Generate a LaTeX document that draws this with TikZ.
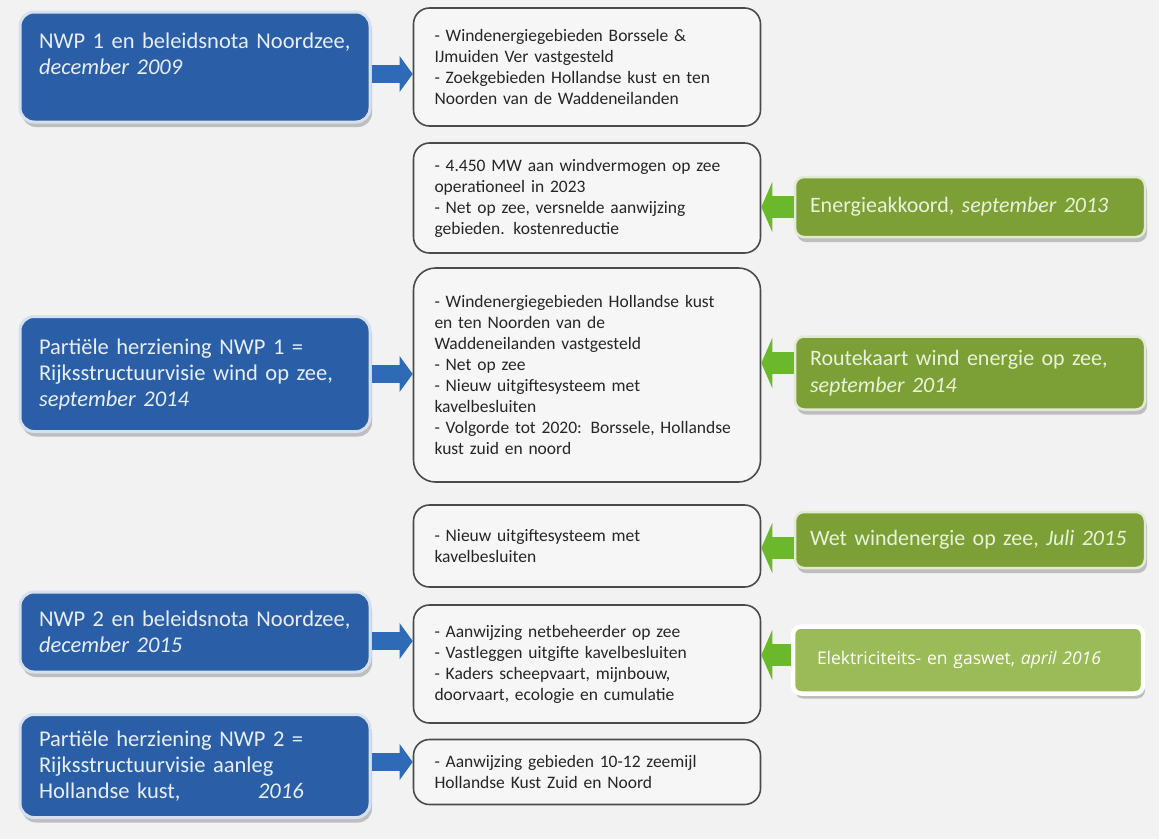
\documentclass[tikz,border=0pt]{standalone}
\usepackage{fontspec}
\setmainfont{Carlito}
\newfontfamily\segoe{Open Sans}
\usetikzlibrary{arrows.meta,shadows}
\definecolor{bgcol}{RGB}{242,242,242}
\definecolor{nwpblue}{RGB}{42,94,166}
\definecolor{nwpedge}{RGB}{214,224,238}
\definecolor{bluetext}{RGB}{232,238,248}
\definecolor{arrowblue}{RGB}{46,106,182}
\definecolor{akkgreen}{RGB}{124,160,54}
\definecolor{akkedge}{RGB}{226,234,212}
\definecolor{greentext}{RGB}{234,242,220}
\definecolor{lightgreen}{RGB}{155,187,89}
\definecolor{arrowgreen}{RGB}{108,184,44}
\definecolor{notefill}{RGB}{246,246,246}
\definecolor{noteedge}{RGB}{74,74,74}
\tikzset{
	nwpbox/.style={rectangle, rounded corners=14pt, fill=nwpblue, draw=nwpedge, line width=3pt,
		text width=312pt, inner xsep=19pt, align=left, text=bluetext, font=\fontsize{22.5}{26}\selectfont,
		drop shadow={shadow xshift=2pt, shadow yshift=-5pt, fill=black!45}},
	notebox/.style={rectangle, rounded corners=16pt, fill=notefill, draw=noteedge, line width=1.6pt,
		text width=305pt, inner xsep=21pt, align=left, text=black!85, font=\fontsize{17.5}{21}\selectfont},
	lawbox/.style={rectangle, rounded corners=9pt, fill=akkgreen, draw=akkedge, line width=2.5pt,
		text width=320pt, inner xsep=15pt, align=left, text=greentext, font=\fontsize{22}{27}\selectfont,
		drop shadow={shadow xshift=2pt, shadow yshift=-5pt, fill=black!45}},
	bluearrow/.style={draw=arrowblue, line width=18pt, -{Triangle[width=35pt,length=13pt]}},
	greenarrow/.style={draw=arrowgreen, line width=22pt, -{Triangle[width=50pt,length=11pt]}},
}
\begin{document}
\begin{tikzpicture}[x=1pt,y=-1pt]
			%%%%% START %%%%%
			
			\fill[bgcol] (0,0) rectangle (1159,839);
			\useasboundingbox (0,0) rectangle (1159,839);
			
			% left column: plans
			\node[nwpbox, minimum height=110pt] (nwp1) at (195,67) {NWP 1 en beleidsnota Noordzee,\\ \textit{december 2009}\\ ~};
			\node[nwpbox, minimum height=115pt] (herz1) at (195,374) {Parti\"ele herziening NWP 1 =\\ Rijksstructuurvisie wind op zee,\\ \textit{september 2014}};
			\node[nwpbox, minimum height=80pt] (nwp2) at (195,632) {NWP 2 en beleidsnota Noordzee,\\ \textit{december 2015}};
			\node[nwpbox, minimum height=103pt] (herz2) at (195,766) {Parti\"ele herziening NWP 2 =\\ Rijksstructuurvisie aanleg\\ Hollandse kust, \hspace*{70pt}\textit{2016}};
			
			% middle column: contents
			\node[notebox, minimum height=118pt] (inh1) at (587,67) {- Windenergiegebieden Borssele \&\\ IJmuiden Ver vastgesteld\\ - Zoekgebieden Hollandse kust en ten\\ Noorden van de Waddeneilanden};
			\node[notebox, minimum height=110pt] (inh2) at (587,198) {- 4.450 MW aan windvermogen op zee\\ operationeel in 2023\\ - Net op zee, versnelde aanwijzing\\ gebieden. kostenreductie};
			\node[notebox, minimum height=214pt, rounded corners=22pt] (inh3) at (587,375) {- Windenergiegebieden Hollandse kust\\ en ten Noorden van de\\ Waddeneilanden vastgesteld\\ - Net op zee\\ - Nieuw uitgiftesysteem met\\ kavelbesluiten\\ - Volgorde tot 2020: Borssele, Hollandse\\ kust zuid en noord};
			\node[notebox, minimum height=82pt] (inh4) at (587,546) {- Nieuw uitgiftesysteem met\\ kavelbesluiten};
			\node[notebox, minimum height=118pt] (inh5) at (587,664) {- Aanwijzing netbeheerder op zee\\ - Vastleggen uitgifte kavelbesluiten\\ - Kaders scheepvaart, mijnbouw,\\ doorvaart, ecologie en cumulatie};
			\node[notebox, minimum height=65pt] (inh6) at (587,772) {- Aanwijzing gebieden 10-12 zeemijl\\ Hollandse Kust Zuid en Noord};
			
			% right column: agreements and laws
			\node[lawbox, minimum height=60pt] (akkoord) at (970,207) {Energieakkoord, \textit{september 2013}};
			\node[lawbox, minimum height=73pt] (route) at (970,373) {Routekaart wind energie op zee,\\ \textit{september 2014}};
			\node[lawbox, minimum height=56pt] (wet) at (970,540) {Wet windenergie op zee, \textit{Juli 2015}};
			\node[lawbox, minimum height=67pt, fill=lightgreen, draw=white, line width=4.5pt, rounded corners=8pt,
				text=white, font=\segoe\fontsize{17.5}{20}\selectfont, inner xsep=24pt, text width=302pt] (gaswet) at (968,660) {Elektriciteits- en gaswet, \textit{april 2016}};
			
			% connectors
			\draw[bluearrow] ([yshift=-7pt]nwp1.east) -- ([yshift=-7pt]nwp1.east -| inh1.west);
			\draw[bluearrow] (herz1.east) -- (herz1.east -| inh3.west);
			\draw[bluearrow] ([yshift=-9pt]nwp2.east) -- ([yshift=-9pt]nwp2.east -| inh5.west);
			\draw[bluearrow] ([yshift=4pt]herz2.east) -- ([yshift=4pt]herz2.east -| inh6.west);
			
			\draw[greenarrow] (akkoord.west) -- (akkoord.west -| inh2.east);
			\draw[greenarrow] ([yshift=10pt]route.west) -- ([yshift=10pt]route.west -| inh3.east);
			\draw[greenarrow] ([yshift=-8pt]wet.west) -- ([yshift=-8pt]wet.west -| inh4.east);
			\draw[greenarrow] ([yshift=5pt]gaswet.west) -- ([yshift=5pt]gaswet.west -| inh5.east);
			
			%%%%% END %%%%%
\end{tikzpicture}
\end{document}
